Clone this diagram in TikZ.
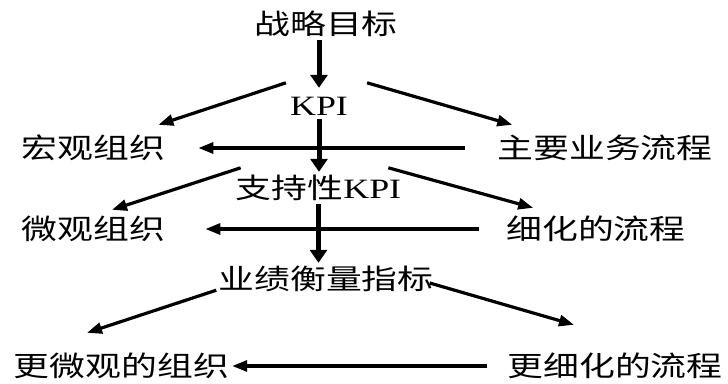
\documentclass[tikz,border=0pt]{standalone}
\usepackage{fontspec}
\setmainfont{Liberation Serif}[FakeStretch=1.28]
\newfontfamily\cjk{Noto Sans CJK SC}[FakeStretch=1.28]
\usetikzlibrary{arrows.meta}

\begin{document}
\begin{tikzpicture}[x=1pt,y=-1pt]
    \tikzstyle{txt}=[inner sep=0pt, text height=24pt, text depth=4pt, anchor=base, font=\cjk\fontsize{28}{32}\selectfont]
    \tikzstyle{every node}=[txt]
    \tikzstyle{vline}=[line width=5pt, -{Triangle[length=13pt,width=17pt]}]
    \tikzstyle{dline}=[line width=3.2pt, -{Triangle[length=15pt,width=11pt]}]
    \useasboundingbox (0,0) rectangle (728,383);

    \node (goal) at (326,34) {战略目标};
    \node (kpi) at (319,115) {\rmfamily KPI};
    \node (macro) at (93.5,158) {宏观组织};
    \node (mainflow) at (605,158) {主要业务流程};
    \node (support) at (318.5,198) {支持性{\rmfamily KPI}};
    \node (micro) at (93.5,239) {微观组织};
    \node (subflow) at (596,239) {细化的流程};
    \node (measure) at (326,289) {业绩衡量指标};
    \node (microx) at (121.5,376) {更微观的组织};
    \node (subflowx) at (615,376) {更细化的流程};

    % down the middle
    \draw[vline, shorten <=2pt, shorten >=3pt] (goal.south -| kpi) -- (kpi.north);
    \draw[vline, shorten >=2pt] (kpi.south) -- (kpi.south |- support.north);
    \draw[vline, shorten <=2pt, shorten >=2pt] (support.south) -- (support.south |- measure.north);

    % out to the sides
    \draw[dline] ([shift={(-4,-8)}]kpi.north west) -- ([shift={(-7,-9)}]macro.north east);
    \draw[dline] ([shift={(19,-8)}]kpi.north east) -- ([shift={(15,-9)}]mainflow.north west);
    \draw[dline] ([shift={(5,-6)}]support.north west) -- ([shift={(18.5,-5)}]micro.north);
    \draw[dline] ([shift={(-13,-6)}]support.north east) -- ([shift={(27,-7)}]subflow.north west);
    \draw[dline] ([shift={(-2,-3)}]measure.south west) -- ([shift={(-34.5,-19)}]microx.north);
    \draw[dline] ([shift={(-4,4)}]measure.east) -- ([shift={(-41,-27)}]subflowx.north);

    % flow to organisation
    \draw[dline, shorten <=32pt, shorten >=33pt] (mainflow.west) -- (macro.east);
    \draw[dline, shorten <=27pt, shorten >=40pt] (subflow.west) -- (micro.east);
    \draw[dline, shorten <=20pt, shorten >=3pt] (subflowx.west) -- (microx.east);
\end{tikzpicture}
\end{document}
